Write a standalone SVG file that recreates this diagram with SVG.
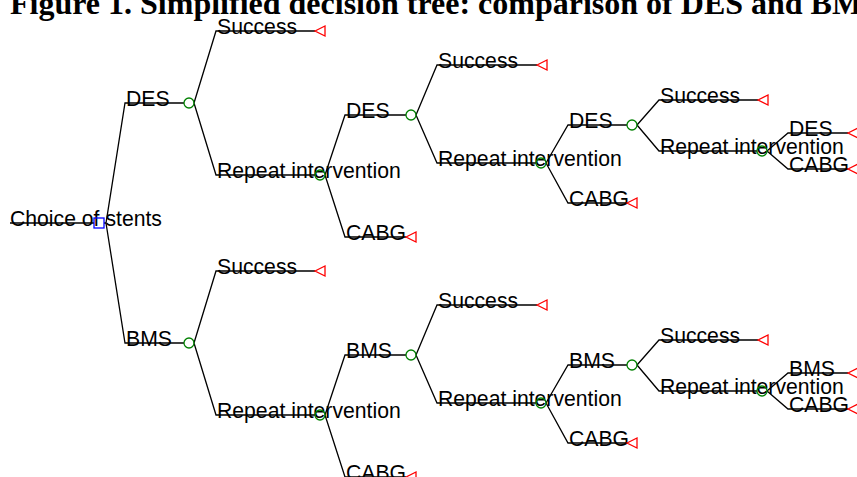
<svg xmlns="http://www.w3.org/2000/svg" width="857" height="477" viewBox="0 0 857 477">
<style>
.t{font-family:"Liberation Sans",Arial,sans-serif;font-size:21.2px;fill:#000}
.title{font-family:"Liberation Serif","Times New Roman",serif;font-size:32px;font-weight:bold;fill:#000}
.ln{fill:none;stroke:#000;stroke-width:1.3}
.dec{fill:none;stroke:#0000ff;stroke-width:1.3}
.ch{fill:none;stroke:#008000;stroke-width:1.3}
.term{fill:none;stroke:#ff0000;stroke-width:1.3}
</style>
<defs>
<path id="tri" d="M0,0 L10,-5 L10,5 Z"/>
</defs>
<rect width="857" height="477" fill="#fff"/>
<text class="title" x="10" y="14">Figure 1. Simplified decision tree: comparison of DES and BMS</text>

<g id="connectors">
<path class="ln" d="M10,223H94"/>
<path class="ln" d="M104,223L106,223L125,103H184M106,223L125,343H184"/>
<path class="ln" d="M194,103L216,31H315M194,103L216,175H315"/>
<path class="ln" d="M325,175L345,115H406M325,175L345,237H406"/>
<path class="ln" d="M416,115L437,65H537M416,115L437,163H536"/>
<path class="ln" d="M546,163L568,125H627M546,163L568,203H627"/>
<path class="ln" d="M637,125L659,100H758M637,125L659,151H757"/>
<path class="ln" d="M767,151L788,133H848M767,151L788,169H848"/>
<path class="ln" d="M194,343L216,271H315M194,343L216,415H315"/>
<path class="ln" d="M325,415L345,355H406M325,415L345,477H406"/>
<path class="ln" d="M416,355L437,305H537M416,355L437,403H536"/>
<path class="ln" d="M546,403L568,365H627M546,403L568,443H627"/>
<path class="ln" d="M637,365L659,340H758M637,365L659,391H757"/>
<path class="ln" d="M767,391L788,373H848M767,391L788,409H848"/>
</g>

<g id="root"><text class="t" x="10" y="226">Choice of stents</text><rect class="dec" x="94" y="218" width="10" height="10"/></g>

<g id="des1"><text class="t" x="126" y="106">DES</text><circle class="ch" cx="189" cy="103" r="5"/></g>
<g id="des1-success"><text class="t" x="217" y="34">Success</text><use href="#tri" class="term" x="315" y="31"/></g>
<g id="des1-repeat"><text class="t" x="217" y="178">Repeat intervention</text><circle class="ch" cx="320" cy="175" r="5"/></g>
<g id="des2"><text class="t" x="346" y="118">DES</text><circle class="ch" cx="411" cy="115" r="5"/></g>
<g id="des2-cabg"><text class="t" x="346" y="240">CABG</text><use href="#tri" class="term" x="406" y="237"/></g>
<g id="des2-success"><text class="t" x="438" y="68">Success</text><use href="#tri" class="term" x="537" y="65"/></g>
<g id="des2-repeat"><text class="t" x="438" y="166">Repeat intervention</text><circle class="ch" cx="541" cy="163" r="5"/></g>
<g id="des3"><text class="t" x="569" y="128">DES</text><circle class="ch" cx="632" cy="125" r="5"/></g>
<g id="des3-cabg"><text class="t" x="569" y="206">CABG</text><use href="#tri" class="term" x="627" y="203"/></g>
<g id="des3-success"><text class="t" x="660" y="103">Success</text><use href="#tri" class="term" x="758" y="100"/></g>
<g id="des3-repeat"><text class="t" x="660" y="154">Repeat intervention</text><circle class="ch" cx="762" cy="151" r="5"/></g>
<g id="des4"><text class="t" x="789" y="136">DES</text><use href="#tri" class="term" x="848" y="133"/></g>
<g id="des4-cabg"><text class="t" x="789" y="172">CABG</text><use href="#tri" class="term" x="848" y="169"/></g>

<g id="bms1"><text class="t" x="126" y="346">BMS</text><circle class="ch" cx="189" cy="343" r="5"/></g>
<g id="bms1-success"><text class="t" x="217" y="274">Success</text><use href="#tri" class="term" x="315" y="271"/></g>
<g id="bms1-repeat"><text class="t" x="217" y="418">Repeat intervention</text><circle class="ch" cx="320" cy="415" r="5"/></g>
<g id="bms2"><text class="t" x="346" y="358">BMS</text><circle class="ch" cx="411" cy="355" r="5"/></g>
<g id="bms2-cabg"><text class="t" x="346" y="480">CABG</text><use href="#tri" class="term" x="406" y="477"/></g>
<g id="bms2-success"><text class="t" x="438" y="308">Success</text><use href="#tri" class="term" x="537" y="305"/></g>
<g id="bms2-repeat"><text class="t" x="438" y="406">Repeat intervention</text><circle class="ch" cx="541" cy="403" r="5"/></g>
<g id="bms3"><text class="t" x="569" y="368">BMS</text><circle class="ch" cx="632" cy="365" r="5"/></g>
<g id="bms3-cabg"><text class="t" x="569" y="446">CABG</text><use href="#tri" class="term" x="627" y="443"/></g>
<g id="bms3-success"><text class="t" x="660" y="343">Success</text><use href="#tri" class="term" x="758" y="340"/></g>
<g id="bms3-repeat"><text class="t" x="660" y="394">Repeat intervention</text><circle class="ch" cx="762" cy="391" r="5"/></g>
<g id="bms4"><text class="t" x="789" y="376">BMS</text><use href="#tri" class="term" x="848" y="373"/></g>
<g id="bms4-cabg"><text class="t" x="789" y="412">CABG</text><use href="#tri" class="term" x="848" y="409"/></g>
</svg>
